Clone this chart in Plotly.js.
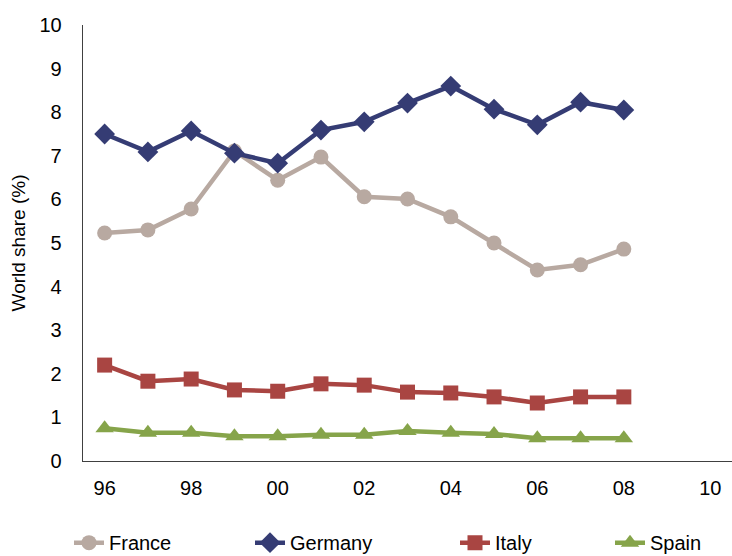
<!DOCTYPE html>
<html>
<head>
<meta charset="utf-8">
<script src="https://cdn.plot.ly/plotly-3.0.1.min.js"></script>
<style>html,body{margin:0;padding:0;background:#fff;}#chart{width:732px;height:556px;}</style>
</head>
<body>
<div id="chart"></div>
<script>
const years = [1996,1997,1998,1999,2000,2001,2002,2003,2004,2005,2006,2007,2008];
const tickVals = [1996,1998,2000,2002,2004,2006,2008,2010];
const tickText = ["96","98","00","02","04","06","08","10"];
const france  = [5.23,5.30,5.78,7.11,6.44,6.97,6.06,6.01,5.60,5.00,4.38,4.50,4.86];
const germany = [7.50,7.09,7.57,7.06,6.83,7.59,7.78,8.21,8.60,8.07,7.71,8.23,8.05];
const italy   = [2.20,1.83,1.88,1.63,1.60,1.77,1.74,1.58,1.56,1.47,1.33,1.47,1.47];
const spain   = [0.75,0.65,0.65,0.57,0.57,0.60,0.60,0.69,0.65,0.62,0.52,0.52,0.52];

const fam = "Liberation Sans, Arial, sans-serif";
const font = {family: fam, color: "#000", size: 20};

function tr(name, y, color, symbol, size, legend) {
  return {x: years, y: y, name: name, type: "scatter", mode: "lines+markers",
    line: {color: color, width: 4.5}, marker: {color: color, symbol: symbol, size: size},
    legend: legend};
}
const data = [
  tr("France", france, "#B8A9A1", "circle", 15, "legend"),
  tr("Germany", germany, "#353C74", "diamond", 16, "legend2"),
  tr("Italy", italy, "#A94542", "square", 15, "legend3"),
  tr("Spain", spain, "#86A44A", "triangle-up", 16, "legend4")
];
function leg(x) {
  return {xref: "container", yref: "container", x: x, y: 0.024, xanchor: "left", yanchor: "middle",
    orientation: "h", font: {family: fam, size: 20, color: "#000"}, bgcolor: "rgba(0,0,0,0)"};
}
const layout = {
  width: 732, height: 556,
  margin: {l: 83, r: 0, t: 25, b: 95},
  paper_bgcolor: "#fff", plot_bgcolor: "#fff",
  font: font,
  showlegend: true,
  legend: leg(69/732), legend2: leg(250/732), legend3: leg(455/732), legend4: leg(610/732),
  xaxis: {range: [1995.5, 2010.5], tickvals: tickVals, ticktext: tickText, showgrid: false,
    zeroline: false, showline: true, linecolor: "#404040", linewidth: 1.3, ticks: "",
    ticklabelstandoff: 9, tickfont: font},
  yaxis: {range: [0, 10], dtick: 1, showgrid: false, zeroline: false, showline: true,
    linecolor: "#404040", linewidth: 1.3, ticks: "", ticklabelstandoff: 16, tickfont: font,
    title: {text: "World share (%)", font: {family: fam, color: "#000", size: 19}, standoff: 8}}
};
Plotly.newPlot("chart", data, layout, {displayModeBar: false, staticPlot: true});
</script>
</body>
</html>
